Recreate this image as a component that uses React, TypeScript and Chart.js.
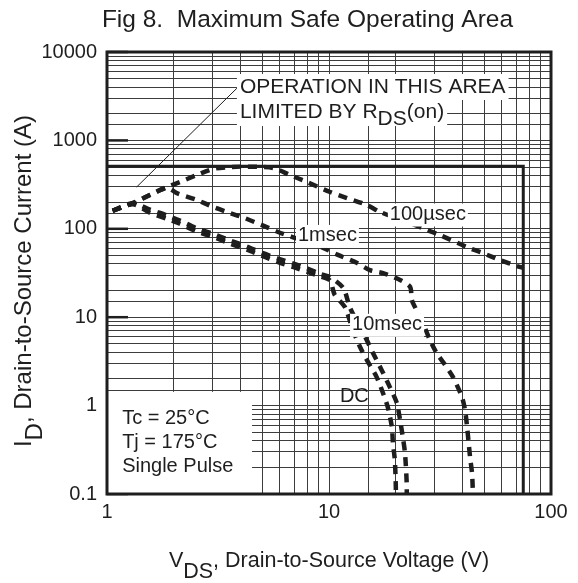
import React, { useEffect, useRef } from 'react';
import { Chart, registerables } from 'chart.js';

Chart.register(...registerables);

const FONT = '"Liberation Sans", Arial, Helvetica, sans-serif';
const INK = '#1e1e1e';

// ---- axis decades / tick labels
const xDecades = [1, 10, 100];
const xTickLabels = ['1', '10', '100'];
const yDecades = [0.1, 1, 10, 100, 1000, 10000];
const yTickLabels = ['0.1', '1', '10', '100', '1000', '10000'];

// ---- SOA curves (VDS in V, ID in A)
const v100us = [1.06, 1.31, 1.56, 1.86, 2.13, 2.54, 3.0, 3.58, 4.27, 5.6, 6.67, 7.96, 10.1, 12.05, 14.8, 17.0, 23.2, 27.6, 31.6, 41.9, 49.4, 58.9, 70.3, 75];
const i100us = [160, 196, 241, 297, 338, 406, 475, 500, 505, 487, 406, 338, 261, 223, 186, 155, 116, 97, 85, 62, 53, 44.4, 37.9, 36];

const v1ms = [1.06, 1.31, 1.56, 1.86, 2.09, 2.54, 3.0, 3.58, 4.18, 4.99, 5.9, 6.8, 9.4, 10.9, 13.4, 15.3, 17.5, 20.9, 23.2, 23.6, 24.4, 25.7, 26.5, 28.5, 30.6, 33.3, 36.2, 39.7, 41.0, 41.9, 43.2, 44.1, 44.5];
const i1ms = [160, 196, 241, 290, 250, 212, 177, 151, 132, 110, 92, 81, 61, 51, 41, 34, 31.6, 26.4, 22, 15.7, 13.0, 10, 8.6, 5.5, 3.9, 2.9, 2.1, 1.25, 0.89, 0.57, 0.26, 0.17, 0.1];

const v10ms = [1.06, 1.31, 1.56, 1.86, 2.13, 2.54, 3.0, 3.58, 4.27, 5.04, 5.9, 6.88, 8.0, 9.1, 10.1, 11.6, 12.4, 13.4, 14.8, 15.8, 17.3, 18.8, 20.2, 20.9, 21.5, 22.0, 22.4, 22.4];
const i10ms = [160, 196, 165, 142, 124, 101, 88, 74, 63, 53, 46, 40.5, 35.5, 31, 28.5, 21.4, 13.0, 8.8, 5.5, 3.9, 2.5, 1.62, 1.07, 0.69, 0.44, 0.29, 0.13, 0.1];

const vDC = [1.06, 1.31, 1.56, 1.86, 2.13, 2.54, 3.0, 3.58, 4.27, 5.04, 5.9, 6.88, 8.0, 9.1, 10.1, 10.6, 11.8, 12.8, 13.8, 15.0, 16.4, 17.5, 18.4, 19.2, 19.4, 19.8, 20.0, 20.0];
const iDC = [160, 190, 152, 130, 114, 93, 81, 68, 58, 49, 42, 37, 32.5, 29, 26, 18, 13.0, 7.2, 4.6, 3.1, 2.1, 1.39, 0.96, 0.57, 0.38, 0.24, 0.12, 0.1];

// package / RDS(on) limit box and leader line
const limitV = [1, 75, 75];
const limitI = [510, 510, 0.1];
const leaderV = [1.36, 3.85];
const leaderI = [297, 3900];

// ---- annotation texts (anchored in data space)
const curveLabels = ['100µsec', '1msec', '10msec', 'DC'];
const curveLabelV = [18.8, 7.25, 12.7, 11.2];
const curveLabelI = [145, 83, 8.2, 1.28];
const curveLabelBg = [true, true, true, false];

const conditionLines = ['Tc = 25°C', 'Tj = 175°C', 'Single Pulse'];
const condTextV = 1.17;
const condTextI = [0.72, 0.378, 0.207];
const condBoxV = 4.5;
const condBoxI = 1.43;

const noteLine1 = 'OPERATION IN THIS AREA';
const noteLine2 = [['LIMITED BY R', 0], ['DS', 7], ['(on)', 0]] as [string, number][];
const noteV = 3.97;
const noteI = [4018, 2094];

const titleText = 'Fig 8.  Maximum Safe Operating Area';
const xTitle: [string, number][] = [['V', 0], ['DS', 11], [', Drain-to-Source Voltage (V)', 0]];
const yTitle: [string, number][] = [['I', 0], ['D', 11], [', Drain-to-Source Current (A)', 0]];

const pts = (xs: number[], ys: number[]) => xs.map((x, i) => ({ x, y: ys[i] }));

const decadeLabel = (decs: number[], labels: string[]) => (v: any) => {
  const n = Number(v);
  const k = decs.findIndex((d) => Math.abs(d - n) / d < 1e-6);
  return k >= 0 ? labels[k] : '';
};

const soaPlugin = {
  id: 'soaDecor',
  beforeDatasetsDraw(chart: any) {
    const { ctx, chartArea: a, scales } = chart;
    const y = scales.y;
    ctx.save();
    ctx.strokeStyle = INK;
    ctx.lineWidth = 2.5;
    for (const d of yDecades) {
      const py = y.getPixelForValue(d);
      ctx.beginPath();
      ctx.moveTo(a.left, py);
      ctx.lineTo(a.left + 21, py);
      ctx.stroke();
    }
    ctx.restore();
  },
  afterDatasetsDraw(chart: any) {
    const { ctx, chartArea: a, scales } = chart;
    const x = scales.x, y = scales.y;
    ctx.save();
    ctx.textBaseline = 'middle';
    ctx.textAlign = 'left';

    // conditions box
    const bx = x.getPixelForValue(condBoxV);
    const by = y.getPixelForValue(condBoxI);
    ctx.fillStyle = '#fff';
    ctx.fillRect(a.left, by, bx - a.left, a.bottom - by);
    ctx.font = `20px ${FONT}`;
    ctx.fillStyle = INK;
    const cx = x.getPixelForValue(condTextV);
    conditionLines.forEach((t, i) => ctx.fillText(t, cx, y.getPixelForValue(condTextI[i])));

    // curve labels
    ctx.font = `20px ${FONT}`;
    curveLabels.forEach((t, i) => {
      const px = x.getPixelForValue(curveLabelV[i]);
      const py = y.getPixelForValue(curveLabelI[i]);
      const w = ctx.measureText(t).width;
      if (curveLabelBg[i]) {
        ctx.fillStyle = '#fff';
        ctx.fillRect(px - 2, py - 11, w + 4, 23);
      }
      ctx.fillStyle = INK;
      ctx.fillText(t, px, py);
    });

    // RDS(on) note
    ctx.font = `21px ${FONT}`;
    const nx = x.getPixelForValue(noteV);
    const ny1 = y.getPixelForValue(noteI[0]);
    const ny2 = y.getPixelForValue(noteI[1]);
    const w1 = ctx.measureText(noteLine1).width;
    let w2 = 0;
    noteLine2.forEach(([t]) => (w2 += ctx.measureText(t).width));
    ctx.fillStyle = '#fff';
    ctx.fillRect(nx - 3, ny1 - 13, w1 + 6, 26);
    ctx.fillRect(nx - 3, ny2 - 13, w2 + 6, 27);
    ctx.fillStyle = INK;
    ctx.fillText(noteLine1, nx, ny1);
    let cur = nx;
    noteLine2.forEach(([t, dy]) => {
      ctx.fillText(t, cur, ny2 + dy);
      cur += ctx.measureText(t).width;
    });
    ctx.restore();
  },
  afterDraw(chart: any) {
    const { ctx, chartArea: a } = chart;
    ctx.save();
    // frame
    ctx.strokeStyle = INK;
    ctx.lineWidth = 3;
    ctx.strokeRect(a.left, a.top, a.right - a.left, a.bottom - a.top);

    ctx.fillStyle = INK;
    ctx.textBaseline = 'alphabetic';
    // title
    ctx.font = `24.5px ${FONT}`;
    ctx.textAlign = 'center';
    ctx.fillText(titleText, 307.5, 27);

    // x axis title (centred under the plot)
    ctx.textAlign = 'left';
    ctx.font = `21.5px ${FONT}`;
    let tw = 0;
    xTitle.forEach(([t]) => (tw += ctx.measureText(t).width));
    let cx = (a.left + a.right) / 2 - tw / 2;
    xTitle.forEach(([t, dy]) => {
      ctx.fillText(t, cx, 567 + dy);
      cx += ctx.measureText(t).width;
    });

    // y axis title (rotated)
    ctx.font = `24px ${FONT}`;
    tw = 0;
    yTitle.forEach(([t]) => (tw += ctx.measureText(t).width));
    ctx.translate(31, 281 + tw / 2);
    ctx.rotate(-Math.PI / 2);
    let cy = 0;
    yTitle.forEach(([t, dy]) => {
      ctx.fillText(t, cy, dy);
      cy += ctx.measureText(t).width;
    });
    ctx.restore();
  },
};

const curveStyle = {
  showLine: true,
  borderColor: INK,
  borderWidth: 4.5,
  borderDash: [9, 7],
  borderCapStyle: 'butt' as const,
  pointRadius: 0,
  tension: 0.25,
  fill: false,
};

export default function App() {
  const ref = useRef<HTMLCanvasElement>(null);
  useEffect(() => {
    if (!ref.current) return;
    const chart = new Chart(ref.current, {
      type: 'scatter',
      data: {
        datasets: [
          { label: '100µsec', data: pts(v100us, i100us), ...curveStyle },
          { label: '1msec', data: pts(v1ms, i1ms), ...curveStyle },
          { label: '10msec', data: pts(v10ms, i10ms), ...curveStyle },
          { label: 'DC', data: pts(vDC, iDC), ...curveStyle },
          {
            label: 'limit',
            data: pts(limitV, limitI),
            showLine: true,
            borderColor: INK,
            borderWidth: 3,
            pointRadius: 0,
            tension: 0,
          },
          {
            label: 'leader',
            data: pts(leaderV, leaderI),
            showLine: true,
            borderColor: INK,
            borderWidth: 1,
            pointRadius: 0,
            tension: 0,
          },
        ],
      },
      options: {
        responsive: false,
        animation: false,
        devicePixelRatio: 1,
        layout: { padding: { left: 40, right: 27, top: 52, bottom: 0 } },
        plugins: { legend: { display: false }, tooltip: { enabled: false }, title: { display: false } },
        scales: {
          x: {
            type: 'logarithmic',
            min: 1,
            max: 100,
            afterFit: (s: any) => {
              s.height = 89;
            },
            grid: { color: '#3c3c3c', lineWidth: 1, drawTicks: false },
            border: { display: false },
            ticks: {
              autoSkip: false,
              maxRotation: 0,
              padding: 6,
              color: INK,
              font: { family: FONT, size: 20 },
              callback: decadeLabel(xDecades, xTickLabels),
            },
          },
          y: {
            type: 'logarithmic',
            min: 0.1,
            max: 10000,
            afterFit: (s: any) => {
              s.width = 67;
            },
            grid: { color: '#3c3c3c', lineWidth: 1, drawTicks: false },
            border: { display: false },
            ticks: {
              autoSkip: false,
              padding: 10,
              color: INK,
              font: { family: FONT, size: 20 },
              callback: decadeLabel(yDecades, yTickLabels),
            },
          },
        },
      },
      plugins: [soaPlugin],
    });
    return () => chart.destroy();
  }, []);
  return (
    <div style={{ position: 'fixed', left: 0, top: 0, width: 578, height: 583, background: '#fff' }}>
      <canvas ref={ref} width={578} height={583} />
    </div>
  );
}
